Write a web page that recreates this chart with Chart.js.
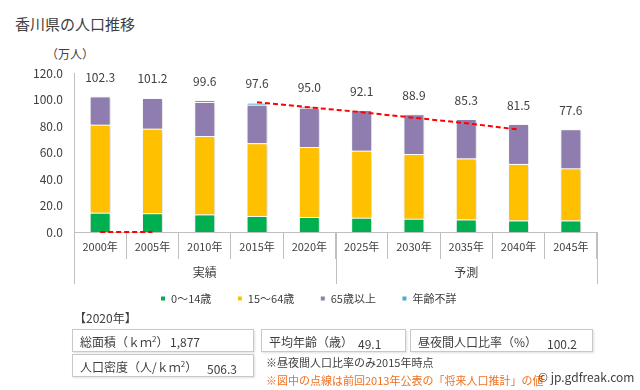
<!DOCTYPE html>
<html lang="ja">
<head>
  <meta charset="UTF-8">
  <title>香川県の人口推移</title>
  <style>
    body { margin: 0; background: #fff; font-family: "Noto Sans CJK JP", "Noto Sans", sans-serif; color: #404040; }
    .wrap { position: relative; width: 640px; height: 390px; overflow: hidden; }
    canvas { position: absolute; left: 0; top: 0; }
    .abs { position: absolute; white-space: nowrap; }
    .title { left: 15px; top: 13px; font-size: 15px; }
    .unit { left: 46px; top: 45px; font-size: 12px; }
    .box { position: absolute; border: 1px solid #c8c8c8; box-shadow: 1px 1px 2px rgba(0,0,0,0.12); font-size: 12px; }
    .box span { position: absolute; top: 3px; }
    .note { font-size: 11px; }
  </style>
</head>
<body>
<div class="wrap">
  <div class="abs title">香川県の人口推移</div>
  <div class="abs unit">（万人）</div>
  <canvas id="chart" width="640" height="314"></canvas>

  <div class="abs" style="left:74px; top:309px; font-size:12px;">【2020年】</div>
  <div class="box" style="left:72px; top:329px; width:180px; height:21px;">
    <span style="left:7px;">総面積（ｋｍ<sup style="font-size:8px;">2</sup>）</span><span style="left:97px;">1,877</span>
  </div>
  <div class="box" style="left:261px; top:329px; width:143px; height:21px;">
    <span style="left:7px;">平均年齢（歳）</span><span style="left:96px; top:5px;">49.1</span>
  </div>
  <div class="box" style="left:410px; top:329px; width:181px; height:21px;">
    <span style="left:7px;">昼夜間人口比率（%）</span><span style="left:136px; top:5px;">100.2</span>
  </div>
  <div class="box" style="left:72px; top:354px; width:180px; height:21px;">
    <span style="left:7px;">人口密度（人/ｋｍ<sup style="font-size:8px;">2</sup>）</span><span style="left:134px; top:5px;">506.3</span>
  </div>
  <div class="abs note" style="left:266px; top:354px;">※昼夜間人口比率のみ2015年時点</div>
  <div class="abs note" style="left:266px; top:372px; color:#f07020;">※図中の点線は前回2013年公表の「将来人口推計」の値</div>
  <div class="abs" style="left:538px; top:368px; font-size:12px;">© jp.gdfreak.com</div>
</div>

<script src="https://cdn.jsdelivr.net/npm/chart.js"></script>
<script>
  const years = ["2000年", "2005年", "2010年", "2015年", "2020年", "2025年", "2030年", "2035年", "2040年", "2045年"];
  const groupLabels = ["実績", "予測"];
  const groupSizes = [5, 5];
  const age0to14 = [14.5, 14.1, 13.3, 12.0, 11.4, 10.7, 10.0, 9.4, 8.6, 8.6];
  const age15to64 = [66.5, 63.9, 59.2, 54.9, 52.8, 50.6, 48.9, 46.0, 42.8, 39.4];
  const age65plus = [21.3, 23.2, 25.6, 29.2, 29.5, 30.8, 30.0, 29.9, 30.1, 29.6];
  const ageUnknown = [0, 0, 1.5, 1.5, 1.3, 0, 0, 0, 0, 0];
  const totals = [102.3, 101.2, 99.6, 97.6, 95.0, 92.1, 88.9, 85.3, 81.5, 77.6];
  const previousProjection = [0, 0, null, 97.9, 94.1, 90.4, 86.2, 82.1, 77.3, null];
  const yTicks = [0, 20, 40, 60, 80, 100, 120];

  const textColor = "#404040";
  const lineGray = "#bfbfbf";
  const font = "Noto Sans CJK JP";

  // shadow under the bars
  const barShadow = {
    id: "barShadow",
    beforeDatasetDraw(chart, args) {
      if (args.meta.type !== "bar") return;
      const ctx = chart.ctx;
      ctx.save();
      ctx.shadowColor = "rgba(0,0,0,0.22)";
      ctx.shadowBlur = 3;
      ctx.shadowOffsetX = 1;
      ctx.shadowOffsetY = 1;
    },
    afterDatasetDraw(chart, args) {
      if (args.meta.type !== "bar") return;
      chart.ctx.restore();
    }
  };

  // legend sits a bit right of the plot centre in the original
  const legendShift = {
    id: "legendShift",
    afterLayout(chart) {
      chart.legend.left += 10;
      chart.legend.right += 10;
    }
  };

  // totals above the bars, group labels under the years
  const extras = {
    id: "extras",
    afterDraw(chart) {
      const ctx = chart.ctx;
      const x = chart.scales.x, y = chart.scales.y;
      ctx.save();
      ctx.fillStyle = textColor;
      ctx.textAlign = "center";
      ctx.textBaseline = "middle";
      ctx.font = "12px '" + font + "'";
      totals.forEach(function (t, i) {
        ctx.fillText(t.toFixed(1), x.getPixelForValue(i), y.getPixelForValue(t) - 19);
      });

      const half = (x.getPixelForValue(1) - x.getPixelForValue(0)) / 2;
      ctx.strokeStyle = lineGray;
      ctx.lineWidth = 1;
      let start = 0;
      const edges = [x.getPixelForValue(0) - half];
      groupSizes.forEach(function (n, g) {
        const end = start + n - 1;
        const left = x.getPixelForValue(start) - half;
        const right = x.getPixelForValue(end) + half;
        edges.push(right);
        ctx.fillText(groupLabels[g], (left + right) / 2, 272);
        start += n;
      });
      edges.forEach(function (e) {
        const px = Math.round(e) + 0.5;
        ctx.beginPath();
        ctx.moveTo(px, chart.chartArea.bottom);
        ctx.lineTo(px, 284);
        ctx.stroke();
      });
      ctx.restore();
    }
  };

  function bar(label, data, color) {
    return {
      type: "bar",
      label: label,
      data: data,
      backgroundColor: color,
      borderColor: "#ffffff",
      borderWidth: 1,
      barPercentage: 0.4,
      categoryPercentage: 1,
      order: 1
    };
  }

  new Chart(document.getElementById("chart"), {
    data: {
      labels: years,
      datasets: [
        bar("0〜14歳", age0to14, "#00b050"),
        bar("15〜64歳", age15to64, "#ffc000"),
        bar("65歳以上", age65plus, "#8f7db0"),
        bar("年齢不詳", ageUnknown, "#4bacc6"),
        {
          type: "line",
          label: "前回推計",
          data: previousProjection,
          borderColor: "#ff0000",
          borderWidth: 2,
          borderDash: [5, 3],
          pointRadius: 0,
          fill: false,
          spanGaps: false,
          tension: 0,
          clip: 4,
          order: 0
        }
      ]
    },
    options: {
      responsive: false,
      animation: false,
      devicePixelRatio: 1,
      layout: { padding: { top: 73, left: 0, right: 43, bottom: 0 } },
      plugins: {
        tooltip: { enabled: false },
        legend: {
          position: "bottom",
          labels: {
            boxWidth: 5,
            boxHeight: 5,
            padding: 26,
            color: textColor,
            font: { family: font, size: 11 },
            filter: function (item) { return item.datasetIndex < 4; }
          }
        }
      },
      scales: {
        x: {
          stacked: true,
          grid: { display: true, drawOnChartArea: false, tickLength: 27, color: lineGray, offset: true },
          border: { display: true, color: lineGray },
          ticks: { color: textColor, font: { family: font, size: 11 }, padding: -19, maxRotation: 0 },
          afterFit: function (scale) { scale.height = 35; }
        },
        y: {
          stacked: true,
          min: 0,
          max: 120,
          afterBuildTicks: function (scale) { scale.ticks = yTicks.map(function (v) { return { value: v }; }); },
          grid: { display: false, drawTicks: false },
          border: { display: true, color: lineGray },
          ticks: {
            color: textColor,
            font: { family: font, size: 12 },
            padding: 11,
            callback: function (v) { return Number(v).toFixed(1); }
          },
          afterFit: function (scale) { scale.width = 74; }
        }
      }
    },
    plugins: [barShadow, legendShift, extras]
  });
</script>
</body>
</html>
